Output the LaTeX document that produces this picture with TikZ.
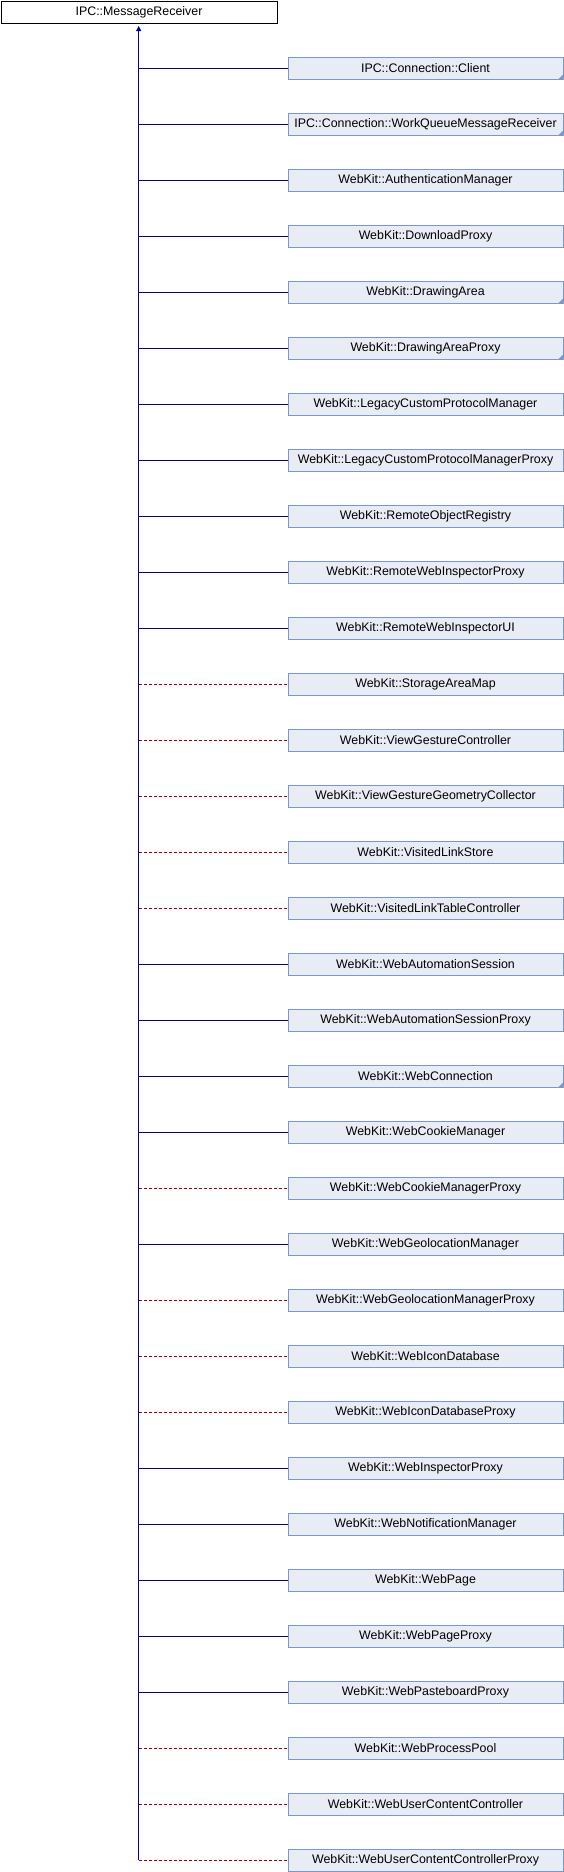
\documentclass[tikz,border=0pt]{standalone}
\usepackage{fontspec}
\setmainfont{Liberation Sans}
\usetikzlibrary{arrows.meta}
\definecolor{cfill}{RGB}{232,236,244}
\definecolor{cborder}{RGB}{126,150,206}
\definecolor{publine}{RGB}{0,0,160}
\definecolor{privline}{RGB}{160,0,0}
\tikzset{
  x=1pt, y=-1pt,
  basebox/.style={draw=black, fill=white, line width=1pt, inner sep=0pt,
    minimum width=276pt, minimum height=22pt, anchor=north west,
    font=\fontsize{12.4}{14}\selectfont},
  childbox/.style={draw=cborder, fill=cfill, line width=1pt, inner sep=0pt,
    minimum width=275pt, minimum height=22pt, anchor=west,
    font=\fontsize{12.4}{14}\selectfont},
  publink/.style={draw=publine, line width=1pt},
  privlink/.style={draw=privline, line width=1pt, dash pattern=on 3pt off 2pt},
  trunk/.style={draw=publine, line width=1pt,
    -{Triangle[width=5pt,length=5pt]}, shorten >=2.5pt},
  morecorner/.style={fill=cborder}
}
\begin{document}
\begin{tikzpicture}
\useasboundingbox (0,0) rectangle (564,1872);
\node[basebox] (base) at (0.5,0.5) {IPC::MessageReceiver};
\coordinate (trunkend) at (138.7,1860);
\draw[trunk] (trunkend) -- (base.south -| trunkend);
\foreach \i/\nm/\lk/\more in {
  0/IPC::Connection::Client/publink/1,
  1/IPC::Connection::WorkQueueMessageReceiver/publink/1,
  2/WebKit::AuthenticationManager/publink/0,
  3/WebKit::DownloadProxy/publink/0,
  4/WebKit::DrawingArea/publink/1,
  5/WebKit::DrawingAreaProxy/publink/1,
  6/WebKit::LegacyCustomProtocolManager/publink/0,
  7/WebKit::LegacyCustomProtocolManagerProxy/publink/0,
  8/WebKit::RemoteObjectRegistry/publink/0,
  9/WebKit::RemoteWebInspectorProxy/publink/0,
  10/WebKit::RemoteWebInspectorUI/publink/0,
  11/WebKit::StorageAreaMap/privlink/0,
  12/WebKit::ViewGestureController/privlink/0,
  13/WebKit::ViewGestureGeometryCollector/privlink/0,
  14/WebKit::VisitedLinkStore/privlink/0,
  15/WebKit::VisitedLinkTableController/privlink/0,
  16/WebKit::WebAutomationSession/publink/0,
  17/WebKit::WebAutomationSessionProxy/publink/0,
  18/WebKit::WebConnection/publink/1,
  19/WebKit::WebCookieManager/publink/0,
  20/WebKit::WebCookieManagerProxy/privlink/0,
  21/WebKit::WebGeolocationManager/publink/0,
  22/WebKit::WebGeolocationManagerProxy/privlink/0,
  23/WebKit::WebIconDatabase/privlink/0,
  24/WebKit::WebIconDatabaseProxy/privlink/0,
  25/WebKit::WebInspectorProxy/publink/0,
  26/WebKit::WebNotificationManager/publink/0,
  27/WebKit::WebPage/publink/0,
  28/WebKit::WebPageProxy/publink/0,
  29/WebKit::WebPasteboardProxy/publink/0,
  30/WebKit::WebProcessPool/privlink/0,
  31/WebKit::WebUserContentController/privlink/0,
  32/WebKit::WebUserContentControllerProxy/privlink/0}{
  \pgfmathsetmacro{\yy}{68+56*\i}
  \node[childbox] (c\i) at (287.5,\yy+0.5) {\nm};
  \coordinate (j\i) at (138.7,\yy);
  \draw[\lk] (j\i) -- (c\i.west |- j\i);
  \ifnum\more=1
    \fill[morecorner] ([shift={(-0.5,-0.5)}]c\i.south east) -- ++(-5,0) -- ++(5,-5) -- cycle;
  \fi
}
\end{tikzpicture}
\end{document}
